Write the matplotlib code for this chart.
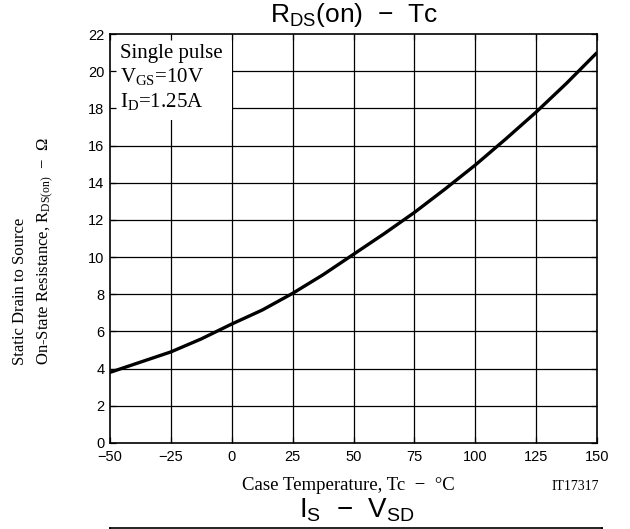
import matplotlib
matplotlib.use("Agg")
import matplotlib.pyplot as plt
from matplotlib.patches import Rectangle

# ---- data ----
temp_c = [-50, -37.5, -25, -12.5, 0, 12.5, 25, 37.5, 50, 62.5, 75, 87.5, 100, 112.5, 125, 137.5, 150]
rds_on = [3.8, 4.35, 4.9, 5.6, 6.4, 7.15, 8.05, 9.05, 10.15, 11.25, 12.4, 13.65, 14.95, 16.35, 17.8, 19.35, 21.0]
x_ticks = [-50, -25, 0, 25, 50, 75, 100, 125, 150]
x_tick_labels = ["\u221250", "\u221225", "0", "25", "50", "75", "100", "125", "150"]
y_ticks = [0, 2, 4, 6, 8, 10, 12, 14, 16, 18, 20, 22]
y_tick_labels = [str(v) for v in y_ticks]

SANS = "Liberation Sans"
SERIF = "Liberation Serif"

W, H = 630, 529
fig = plt.figure(figsize=(W / 100, H / 100), dpi=100)

def px_axes(l, t, r, b):
    return [l / W, 1 - b / H, (r - l) / W, (b - t) / H]

ax = fig.add_axes(px_axes(110, 34, 597, 443))
ax.set_xlim(-50, 150)
ax.set_ylim(0, 22)

# grid (drawn manually so the annotation box can hide part of it)
ax.vlines(x_ticks[1:-1], 0, 22, colors="black", linewidth=0.9, zorder=1)
ax.hlines(y_ticks[1:-1], -50, 150, colors="black", linewidth=0.9, zorder=1)
ax.add_patch(Rectangle((-50, 17.4), 50, 4.6, facecolor="white", edgecolor="none", zorder=1.5))

ax.plot(temp_c, rds_on, color="black", linewidth=2.4, zorder=3, solid_capstyle="butt")

ax.set_xticks(x_ticks)
ax.set_xticklabels(x_tick_labels, fontfamily=SANS, fontsize=10.5)
ax.set_yticks(y_ticks)
ax.set_yticklabels(y_tick_labels, fontfamily=SANS, fontsize=10.5)
ax.tick_params(direction="in", length=4, width=0.9, top=True, right=True)
ax.tick_params(axis="x", pad=5)
ax.tick_params(axis="y", pad=4)
for s in ax.spines.values():
    s.set_linewidth(1.2)
ax.set_axisbelow(False)

ax.text(-45.9, 21.45, "Single pulse\n$\\mathregular{V_{GS}}$=10V\n$\\mathregular{I_D}$=1.25A",
        fontfamily=SERIF, fontsize=15, va="top", ha="left", linespacing=1.2, zorder=4)

fig.text(354 / W, 1 - 15 / H, "$\\mathregular{R_{DS}}$(on)  \u2212  Tc", fontfamily=SANS,
         fontsize=19, ha="center", va="center")

fig.text(348 / W, 1 - 486 / H, "Case Temperature, Tc  \u2212  \u00b0C", fontfamily=SERIF,
         fontsize=13.5, ha="center", va="center")
fig.text(575 / W, 1 - 486 / H, "IT17317", fontfamily=SERIF, fontsize=10, ha="center", va="center")

fig.text(34 / W, 1 - 251 / H,
         "Static Drain to Source\nOn-State Resistance, $\\mathregular{R_{DS(on)}}$  \u2212  \u03a9",
         fontfamily=SERIF, fontsize=12, rotation=90, ha="center", va="center",
         multialignment="left", linespacing=1.65)

# next chart (cut off at bottom)
ax2 = fig.add_axes(px_axes(110, 528, 602, 792))
ax2.set_xlim(0, 1)
ax2.set_ylim(0, 10.2)
ax2.set_xticks([])
ax2.set_yticks([10])
ax2.set_yticklabels(["10"], fontfamily=SANS, fontsize=10.5)
ax2.tick_params(direction="in", length=0)
for s in ax2.spines.values():
    s.set_linewidth(1.2)
fig.text(357 / W, 1 - 510 / H, "$\\mathregular{I_S}$  \u2212  $\\mathregular{V_{SD}}$", fontfamily=SANS,
         fontsize=20, ha="center", va="center")

fig.savefig("out.png", dpi=100)
